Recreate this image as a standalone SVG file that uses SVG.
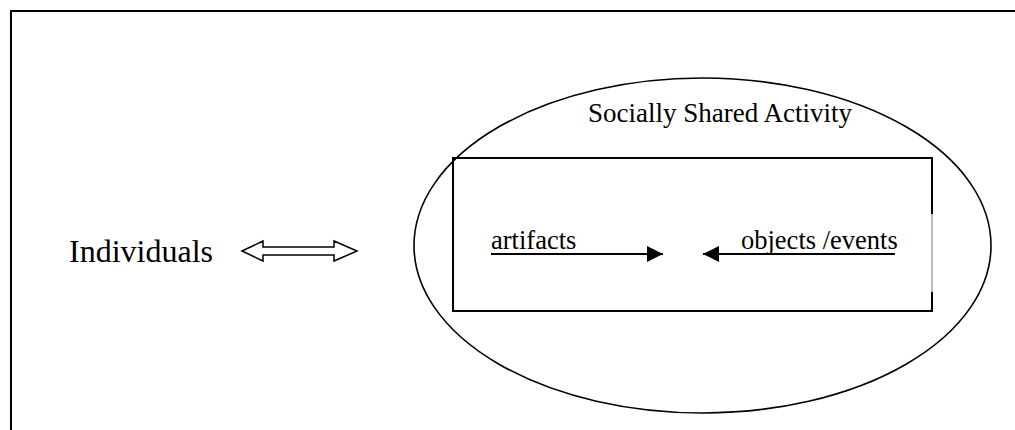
<svg xmlns="http://www.w3.org/2000/svg" width="1015" height="430" viewBox="0 0 1015 430">
  <style>
    .t { font-family: "Liberation Serif", "Times New Roman", serif; fill: #000; }
    .ln { fill: none; stroke: #000; stroke-width: 2; }
  </style>
  <defs>
    <marker id="ah" viewBox="0 0 16 16" refX="16" refY="8" markerWidth="16" markerHeight="16" markerUnits="userSpaceOnUse" orient="auto">
      <path d="M0,0 L16,8 L0,16 Z" fill="#000"/>
    </marker>
  </defs>
  <rect width="1015" height="430" fill="#fff"/>
  <path class="ln" d="M11,430 V11 H1015"/>

  <g id="individuals">
    <text class="t" x="69" y="262" font-size="32">Individuals</text>
  </g>

  <g id="social-activity">
    <ellipse cx="702.5" cy="245.5" rx="288.5" ry="167.5" fill="none" stroke="#000" stroke-width="1.6"/>
    <text class="t" x="588" y="122" font-size="27">Socially Shared Activity</text>
  </g>

  <g id="inner-box">
    <path class="ln" d="M932,214 V158 H453 V311 H932 V292"/>
    <path d="M932,214 V292" stroke="#777" stroke-width="1" fill="none"/>
  </g>

  <g id="artifacts">
    <text class="t" x="491" y="249" font-size="26.5">artifacts</text>
  </g>

  <g id="objects-events">
    <text class="t" x="741" y="249" font-size="26.5">objects /events</text>
  </g>

  <g id="connectors">
    <path d="M242,251 L263,241 V247 H334 V241 L357,251 L334,261 V255 H263 V261 Z" fill="#fff" stroke="#000" stroke-width="1.5" stroke-linejoin="miter"/>
    <line class="ln" x1="491" y1="254" x2="663" y2="254" marker-end="url(#ah)"/>
    <line class="ln" x1="895" y1="254" x2="703" y2="254" marker-end="url(#ah)"/>
  </g>
</svg>
